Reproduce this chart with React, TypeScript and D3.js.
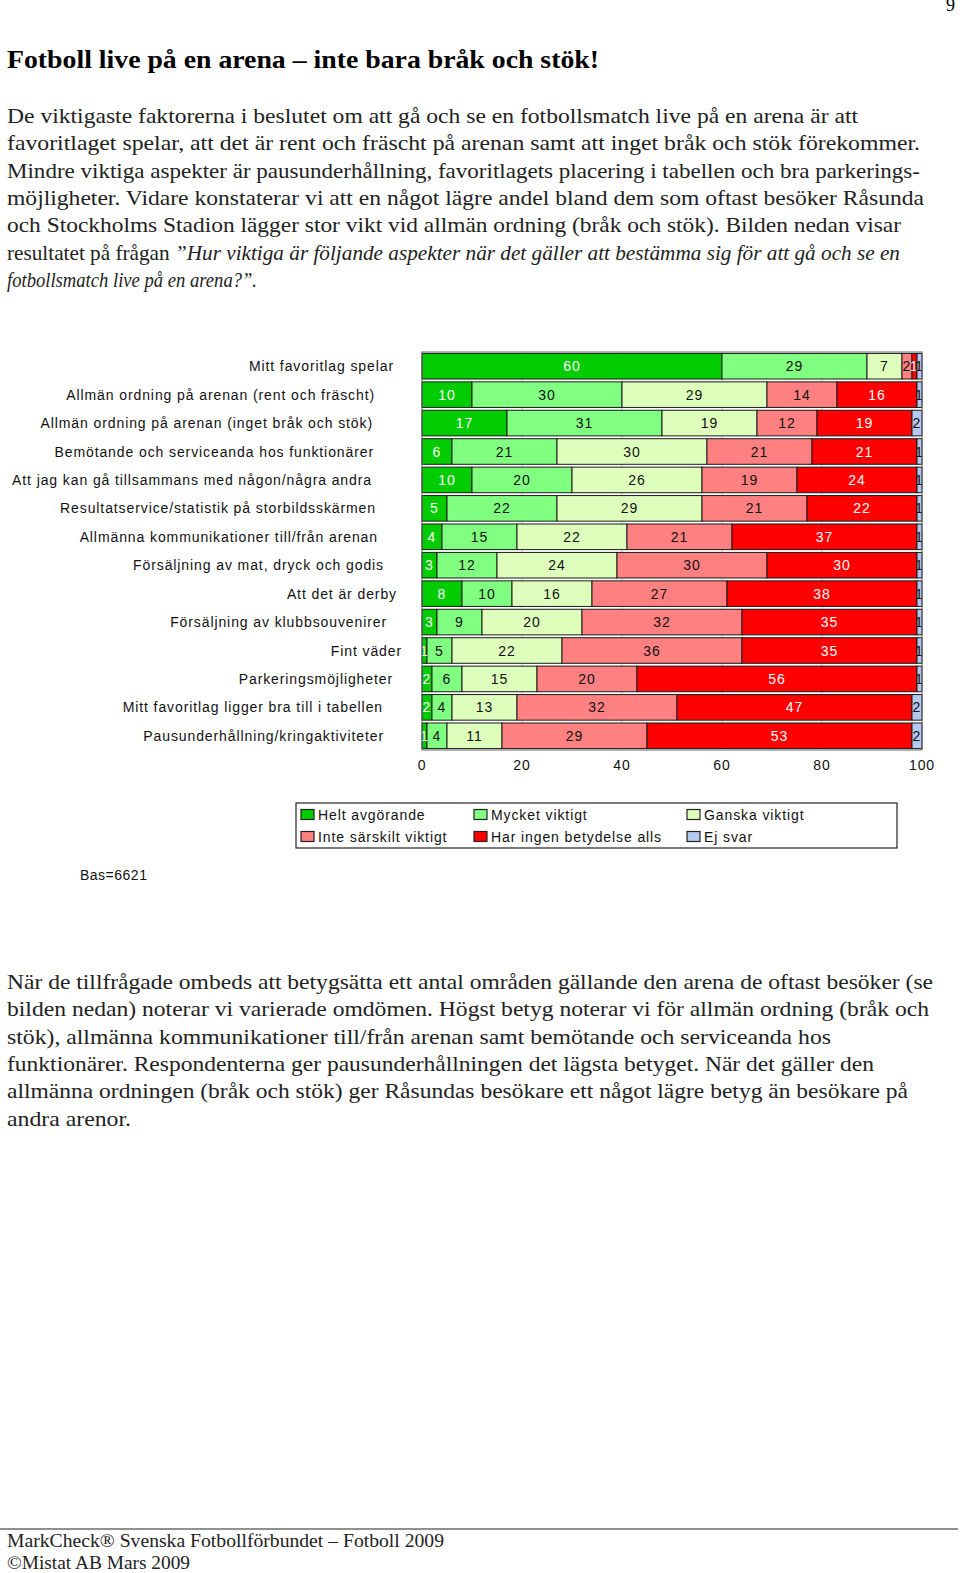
import React from 'react';
import * as d3 from 'd3';

// Survey rows, top to bottom
const categories = [
  'Mitt favoritlag spelar',
  'Allmän ordning på arenan (rent och fräscht)',
  'Allmän ordning på arenan (inget bråk och stök)',
  'Bemötande och serviceanda hos funktionärer',
  'Att jag kan gå tillsammans med någon/några andra',
  'Resultatservice/statistik på storbildsskärmen',
  'Allmänna kommunikationer till/från arenan',
  'Försäljning av mat, dryck och godis',
  'Att det är derby',
  'Försäljning av klubbsouvenirer',
  'Fint väder',
  'Parkeringsmöjligheter',
  'Mitt favoritlag ligger bra till i tabellen',
  'Pausunderhållning/kringaktiviteter',
];

const helt = [60, 10, 17, 6, 10, 5, 4, 3, 8, 3, 1, 2, 2, 1];
const mycket = [29, 30, 31, 21, 20, 22, 15, 12, 10, 9, 5, 6, 4, 4];
const ganska = [7, 29, 19, 30, 26, 29, 22, 24, 16, 20, 22, 15, 13, 11];
const inte = [2, 14, 12, 21, 19, 21, 21, 30, 27, 32, 36, 20, 32, 29];
const ingen = [1, 16, 19, 21, 24, 22, 37, 30, 38, 35, 35, 56, 47, 53];
const ejSvar = [1, 1, 2, 1, 1, 1, 1, 1, 1, 1, 1, 1, 2, 2];

const seriesNames = [
  'Helt avgörande',
  'Mycket viktigt',
  'Ganska viktigt',
  'Inte särskilt viktigt',
  'Har ingen betydelse alls',
  'Ej svar',
];
const xTicks = [0, 20, 40, 60, 80, 100];
const base = 'Bas=6621';

// layout (not data)
const colors = ['#00cc00', '#80ff80', '#ddffbb', '#ff8080', '#ff0000', '#b4c8f0'];
const whiteText = [true, false, false, false, true, false];
const labelEnds = [394, 375, 373, 374, 372, 376, 378, 384, 397, 387, 402, 393, 383, 384];

const para1 = [
  'De viktigaste faktorerna i beslutet om att gå och se en fotbollsmatch live på en arena är att',
  'favoritlaget spelar, att det är rent och fräscht på arenan samt att inget bråk och stök förekommer.',
  'Mindre viktiga aspekter är pausunderhållning, favoritlagets placering i tabellen och bra parkerings-',
  'möjligheter. Vidare konstaterar vi att en något lägre andel bland dem som oftast besöker Råsunda',
  'och Stockholms Stadion lägger stor vikt vid allmän ordning (bråk och stök). Bilden nedan visar',
];
const para1Ends = [858, 920, 920, 924, 901];
const para2 = [
  'När de tillfrågade ombeds att betygsätta ett antal områden gällande den arena de oftast besöker (se',
  'bilden nedan) noterar vi varierade omdömen. Högst betyg noterar vi för allmän ordning (bråk och',
  'stök), allmänna kommunikationer till/från arenan samt bemötande och serviceanda hos',
  'funktionärer. Respondenterna ger pausunderhållningen det lägsta betyget. När det gäller den',
  'allmänna ordningen (bråk och stök) ger Råsundas besökare ett något lägre betyg än besökare på',
  'andra arenor.',
];
const para2Ends = [933, 929, 831, 874, 908, 131];

const serif = "'Liberation Serif', 'Times New Roman', serif";
const sans = "'Liberation Sans', Arial, sans-serif";

const App: React.FC = () => {
  const margin = { left: 422, right: 922, top: 352, bottom: 750 };

  const table = categories.map((c, i) => ({
    cat: c,
    [seriesNames[0]]: helt[i],
    [seriesNames[1]]: mycket[i],
    [seriesNames[2]]: ganska[i],
    [seriesNames[3]]: inte[i],
    [seriesNames[4]]: ingen[i],
    [seriesNames[5]]: ejSvar[i],
  }));

  const stacked = d3.stack<any>().keys(seriesNames)(table);

  const x = d3.scaleLinear().domain([0, 100]).range([margin.left, margin.right]);
  const y = d3
    .scaleBand<string>()
    .domain(categories)
    .range([margin.top, margin.bottom])
    .paddingInner(0.1)
    .paddingOuter(0.05);

  const bodySize = 22;
  const lineH = 27.3;

  return (
    <div style={{ position: 'absolute', left: 0, top: 0 }}>
      <svg width={960} height={1573} style={{ display: 'block', background: '#fff' }}>
        <rect x={0} y={0} width={960} height={1573} fill="#fff" />
        <text x={946} y={11} fontFamily={serif} fontSize={18}>9</text>

        <text x={7} y={68} fontFamily={serif} fontSize={25} fontWeight="bold"
          textLength={592} lengthAdjust="spacingAndGlyphs">
          Fotboll live på en arena – inte bara bråk och stök!
        </text>

        {para1.map((l, i) => (
          <text key={i} x={7} y={123 + i * lineH} fontFamily={serif} fontSize={bodySize}
            textLength={para1Ends[i] - 7} lengthAdjust="spacingAndGlyphs" fill="#222">
            {l}
          </text>
        ))}
        <text x={7} y={123 + 5 * lineH} fontFamily={serif} fontSize={bodySize}
          textLength={900 - 7} lengthAdjust="spacingAndGlyphs" fill="#222">
          resultatet på frågan <tspan fontStyle="italic">”Hur viktiga är följande aspekter när det gäller att bestämma sig för att gå och se en</tspan>
        </text>
        <text x={7} y={123 + 6 * lineH} fontFamily={serif} fontSize={bodySize} fontStyle="italic"
          textLength={250} lengthAdjust="spacingAndGlyphs" fill="#222">
          fotbollsmatch live på en arena?”.
        </text>

        {/* chart */}
        <g>
          {xTicks.slice(1, -1).map((t) => (
            <line key={t} x1={x(t)} x2={x(t)} y1={margin.top} y2={margin.bottom} stroke="#c8c8c8" />
          ))}
          {stacked.map((s, si) => (
            <g key={s.key}>
              {s.map((d, i) => (
                <rect key={i} x={x(d[0])} y={y(categories[i])} width={x(d[1]) - x(d[0])}
                  height={y.bandwidth()} fill={colors[si]} stroke="#1a1a1a" strokeWidth={1} />
              ))}
            </g>
          ))}
          {stacked.map((s, si) => (
            <g key={'l' + s.key}>
              {s.map((d, i) => (
                <text key={i} x={(x(d[0]) + x(d[1])) / 2} y={(y(categories[i]) as number) + y.bandwidth() / 2 + 5}
                  textAnchor="middle" fontFamily={sans} fontSize={14} letterSpacing={1}
                  fill={whiteText[si] ? '#fff' : '#111'}>
                  {d[1] - d[0]}
                </text>
              ))}
            </g>
          ))}
          <rect x={margin.left} y={margin.top} width={margin.right - margin.left}
            height={margin.bottom - margin.top} fill="none" stroke="#666" strokeWidth={1} />
          {categories.map((c, i) => (
            <text key={c} x={labelEnds[i]} y={(y(c) as number) + y.bandwidth() / 2 + 5}
              textAnchor="end" fontFamily={sans} fontSize={14} letterSpacing={0.9} fill="#111">
              {c}
            </text>
          ))}
          {xTicks.map((t) => (
            <text key={t} x={x(t)} y={770} textAnchor="middle" fontFamily={sans} fontSize={14}
              letterSpacing={0.9} fill="#111">
              {t}
            </text>
          ))}
        </g>

        {/* legend */}
        <rect x={296} y={803} width={601} height={45} fill="#fff" stroke="#222" strokeWidth={1.2} />
        {seriesNames.map((n, i) => {
          const cx = [301, 474, 687][i % 3];
          const cy = i < 3 ? 814.5 : 836.5;
          return (
            <g key={n}>
              <rect x={cx} y={cy - 5} width={13} height={10} fill={colors[i]} stroke="#222" strokeWidth={1.2} />
              <text x={cx + 17} y={cy + 5} fontFamily={sans} fontSize={14} letterSpacing={0.9} fill="#111">
                {n}
              </text>
            </g>
          );
        })}

        <text x={80} y={880} fontFamily={sans} fontSize={14} letterSpacing={0.5} fill="#111">{base}</text>

        {para2.map((l, i) => (
          <text key={i} x={7} y={989 + i * lineH} fontFamily={serif} fontSize={bodySize}
            textLength={para2Ends[i] - 7} lengthAdjust="spacingAndGlyphs" fill="#222">
            {l}
          </text>
        ))}

        <line x1={0} x2={958} y1={1529} y2={1529} stroke="#222" strokeWidth={1.2} />
        <text x={7} y={1547} fontFamily={serif} fontSize={19} textLength={437}
          lengthAdjust="spacingAndGlyphs" fill="#222">
          MarkCheck® Svenska Fotbollförbundet – Fotboll 2009
        </text>
        <text x={7} y={1569} fontFamily={serif} fontSize={19} textLength={183}
          lengthAdjust="spacingAndGlyphs" fill="#222">
          ©Mistat AB Mars 2009
        </text>
      </svg>
    </div>
  );
};

export default App;
